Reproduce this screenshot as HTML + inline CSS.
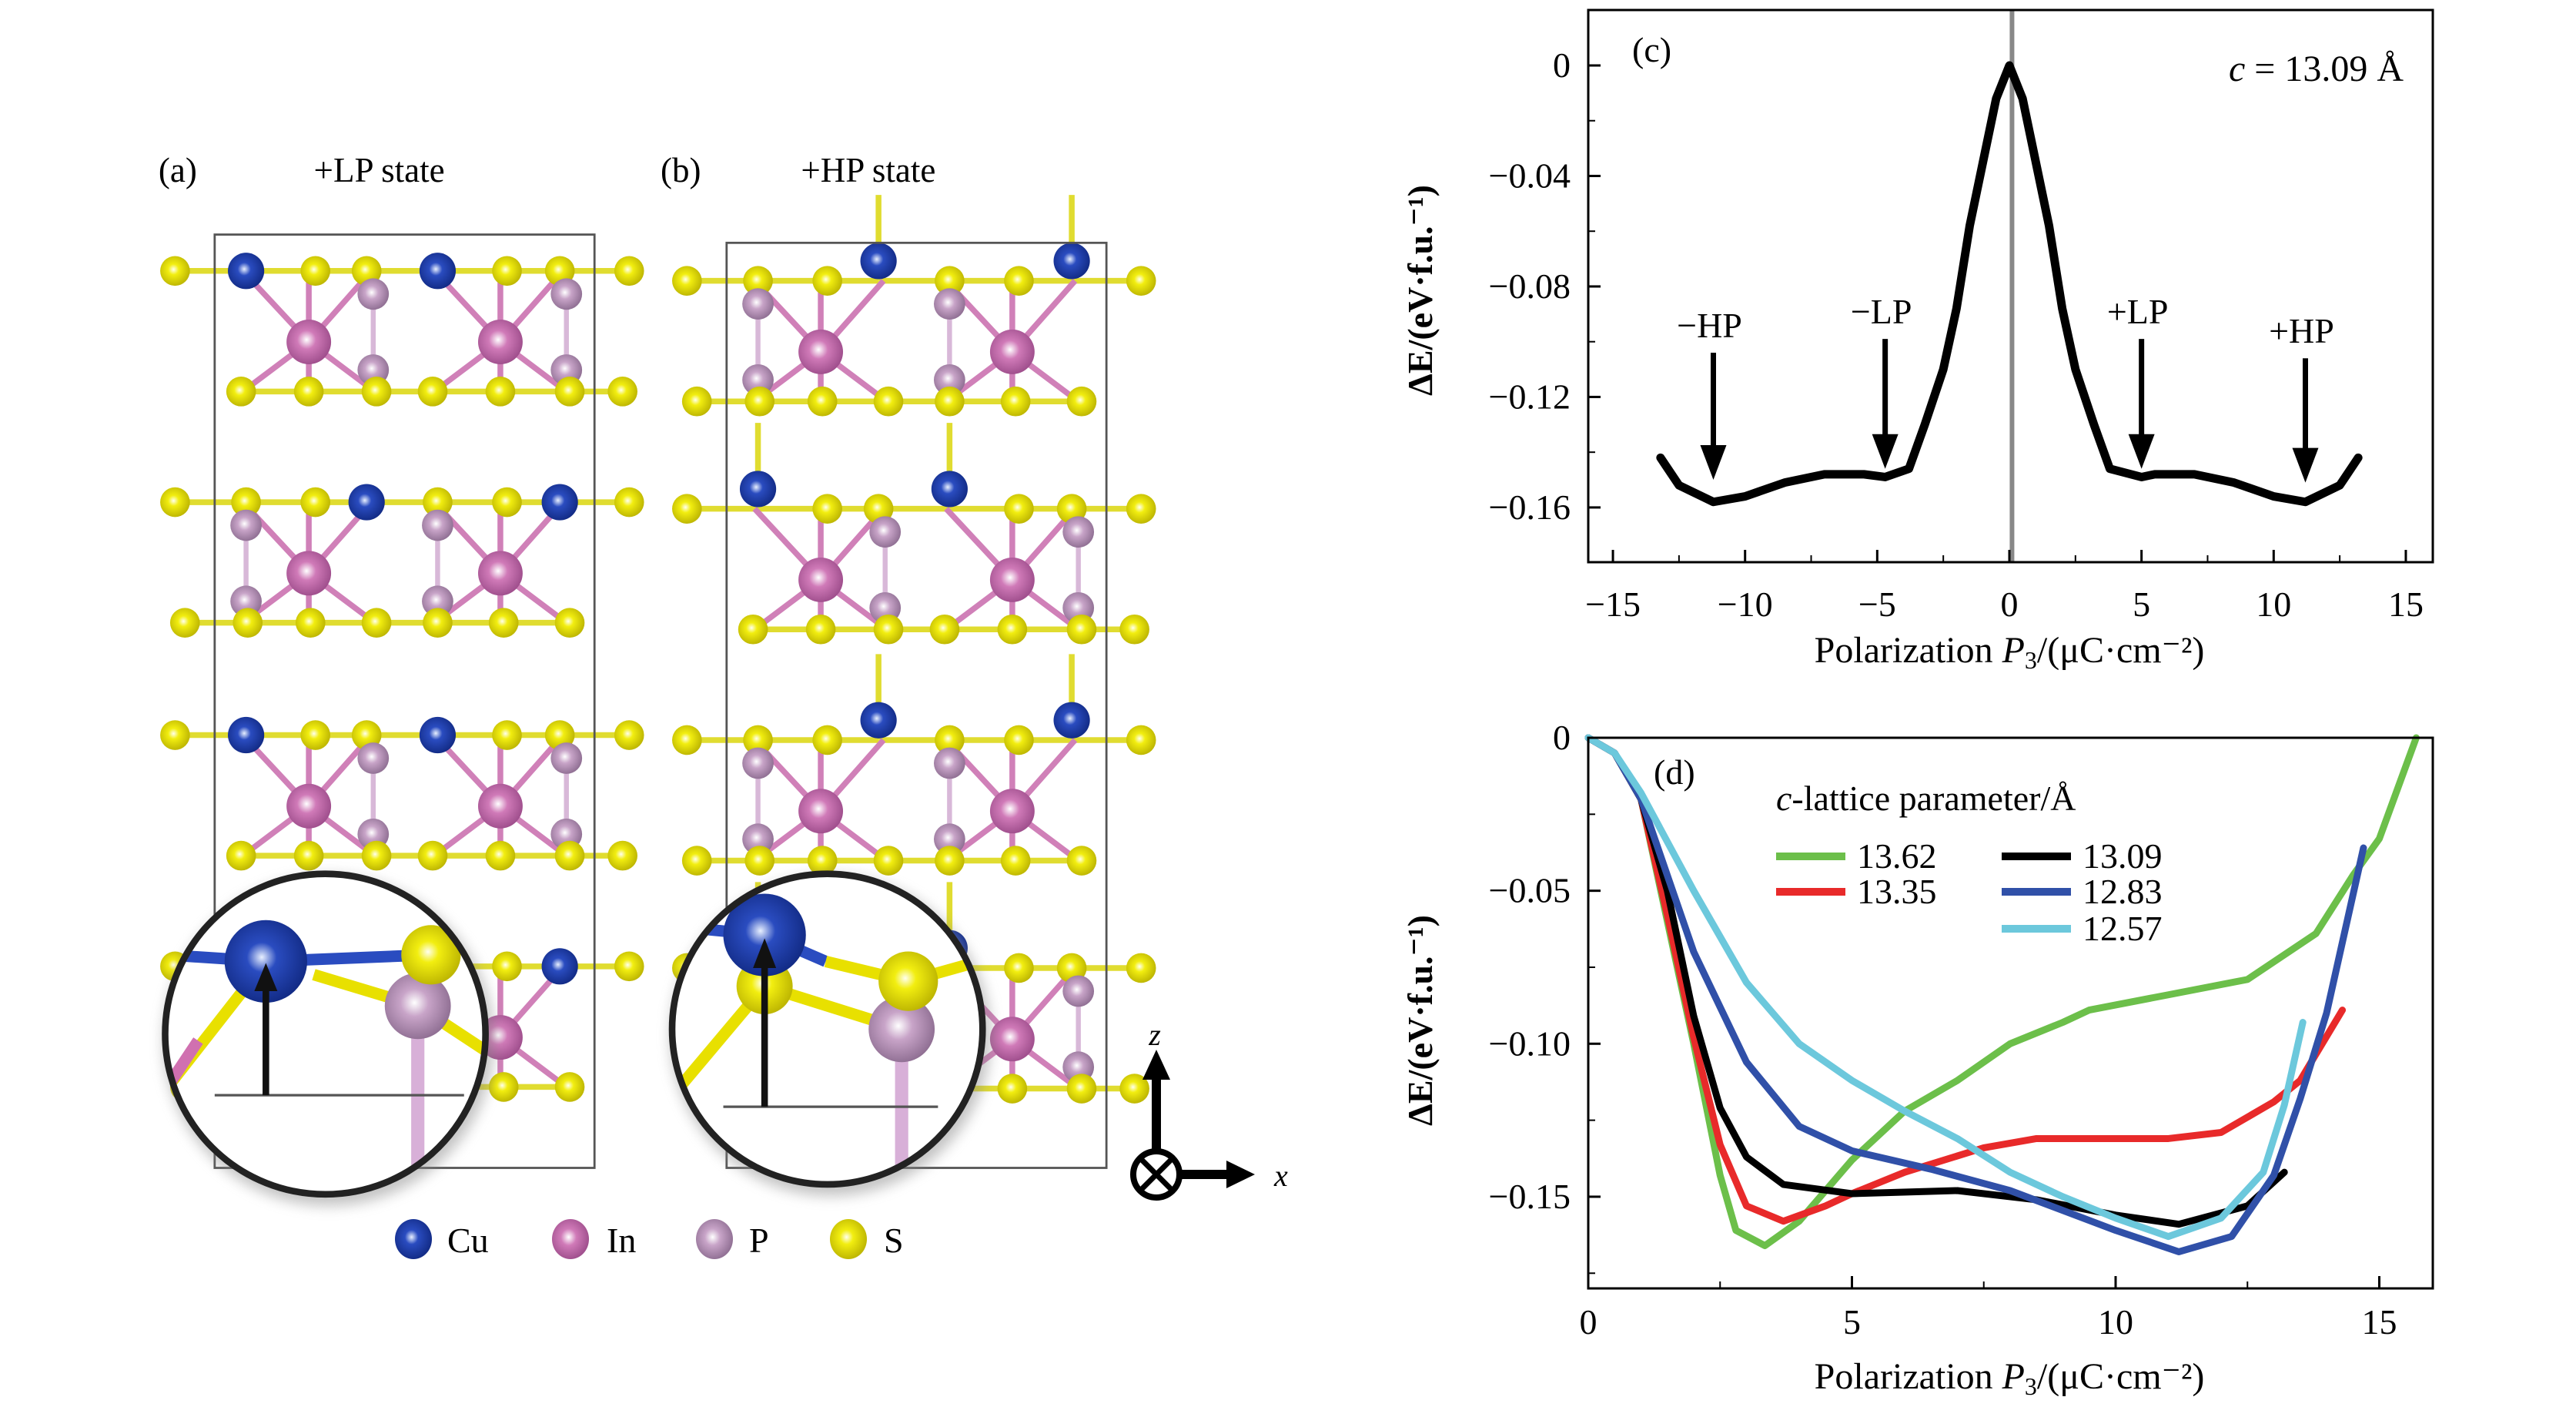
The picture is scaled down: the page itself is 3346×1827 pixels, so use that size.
<!DOCTYPE html>
<html><head><meta charset="utf-8"><style>
html,body{margin:0;padding:0;background:#fff;}
svg{display:block;}
svg text{font-family:"Liberation Serif","DejaVu Serif",serif;fill:#000;}
</style></head><body>
<svg id="fig" width="3346" height="1827" viewBox="0 0 3346 1827" xmlns="http://www.w3.org/2000/svg" font-family="Liberation Serif, DejaVu Serif, serif" style="font-family:'Liberation Serif',serif">
<defs>
<radialGradient id="gS" cx="0.45" cy="0.45" r="0.6"><stop offset="0" stop-color="#fffff0"/><stop offset="0.3" stop-color="#f2ee10"/><stop offset="1" stop-color="#b8b000"/></radialGradient>
<radialGradient id="gCu" cx="0.45" cy="0.45" r="0.6"><stop offset="0" stop-color="#e8f0ff"/><stop offset="0.3" stop-color="#2a4cc0"/><stop offset="1" stop-color="#102880"/></radialGradient>
<radialGradient id="gIn" cx="0.45" cy="0.45" r="0.6"><stop offset="0" stop-color="#ffffff"/><stop offset="0.35" stop-color="#d07ab8"/><stop offset="1" stop-color="#9a4a88"/></radialGradient>
<radialGradient id="gP" cx="0.45" cy="0.45" r="0.6"><stop offset="0" stop-color="#ffffff"/><stop offset="0.35" stop-color="#c8a4c8"/><stop offset="1" stop-color="#8a6a8e"/></radialGradient>
<clipPath id="clipA"><circle cx="197" cy="626" r="97"/></clipPath>
<clipPath id="clipB"><circle cx="501" cy="623" r="94"/></clipPath>
<filter id="sh" x="-20%" y="-20%" width="140%" height="140%"><feGaussianBlur stdDeviation="4"/></filter>
</defs>
<g id="crystal" transform="scale(2.145)">
 <text x="96" y="110" font-size="21" font-family="Liberation Serif, serif">(a)</text>
 <text x="190" y="110" font-size="21" font-family="Liberation Serif, serif">+LP state</text>
 <text x="400" y="110" font-size="21" font-family="Liberation Serif, serif">(b)</text>
 <text x="485" y="110" font-size="21" font-family="Liberation Serif, serif">+HP state</text>
 <g id="atomsA"></g>
 <g id="atomsB"></g>
 <rect x="130" y="142" width="230" height="565" fill="none" stroke="#555" stroke-width="1.3"/>
 <rect x="440" y="147" width="230" height="560" fill="none" stroke="#555" stroke-width="1.3"/>
 <g>
  <circle cx="199" cy="630" r="100" fill="#888" opacity="0.5" filter="url(#sh)"/>
  <circle cx="197" cy="626" r="97" fill="#fff"/>
  <g clip-path="url(#clipA)">
   <line x1="100" y1="578" x2="161" y2="582" stroke="#2a4cc0" stroke-width="7"/>
   <line x1="161" y1="582" x2="261" y2="578" stroke="#2a4cc0" stroke-width="7"/>
   <line x1="161" y1="582" x2="100" y2="660" stroke="#e8e000" stroke-width="7"/>
   <line x1="120" y1="630" x2="100" y2="660" stroke="#d070b0" stroke-width="7"/>
   <line x1="190" y1="590" x2="253" y2="609" stroke="#e8e000" stroke-width="7"/>
   <line x1="253" y1="609" x2="300" y2="640" stroke="#e8e000" stroke-width="7"/>
   <rect x="249" y="610" width="8" height="120" fill="#d8b0d8"/>
   <circle cx="253" cy="609" r="20" fill="url(#gP)"/>
   <circle cx="261" cy="578" r="18" fill="url(#gS)"/>
   <circle cx="161" cy="582" r="25" fill="url(#gCu)"/>
   <line x1="130" y1="663" x2="281" y2="663" stroke="#555" stroke-width="1.5"/>
   <line x1="161" y1="663" x2="161" y2="598" stroke="#111" stroke-width="4"/>
   <polygon points="161,583 154,600 168,600" fill="#111"/>
  </g>
  <circle cx="197" cy="626" r="97" fill="none" stroke="#222" stroke-width="4"/>
 </g>
 <g>
  <circle cx="503" cy="627" r="97" fill="#888" opacity="0.5" filter="url(#sh)"/>
  <circle cx="501" cy="623" r="94" fill="#fff"/>
  <g clip-path="url(#clipB)">
   <line x1="400" y1="560" x2="463" y2="566" stroke="#2a4cc0" stroke-width="7"/>
   <line x1="463" y1="566" x2="500" y2="582" stroke="#2a4cc0" stroke-width="7"/>
   <line x1="500" y1="582" x2="550" y2="594" stroke="#e8e000" stroke-width="7"/>
   <line x1="463" y1="597" x2="410" y2="660" stroke="#e8e000" stroke-width="7"/>
   <line x1="463" y1="597" x2="546" y2="623" stroke="#e8e000" stroke-width="7"/>
   <line x1="550" y1="594" x2="600" y2="580" stroke="#e8e000" stroke-width="7"/>
   <rect x="542" y="624" width="8" height="110" fill="#d8b0d8"/>
   <circle cx="546" cy="623" r="20" fill="url(#gP)"/>
   <circle cx="463" cy="597" r="17" fill="url(#gS)"/>
   <circle cx="550" cy="594" r="18" fill="url(#gS)"/>
   <circle cx="463" cy="566" r="25" fill="url(#gCu)"/>
   <line x1="438" y1="670" x2="568" y2="670" stroke="#555" stroke-width="1.5"/>
   <line x1="463" y1="670" x2="463" y2="585" stroke="#111" stroke-width="4"/>
   <polygon points="463,568 456,586 470,586" fill="#111"/>
  </g>
  <circle cx="501" cy="623" r="94" fill="none" stroke="#222" stroke-width="4"/>
 </g>
</g>
<g>
 <line x1="1502" y1="1492" x2="1502" y2="1400" stroke="#000" stroke-width="12"/>
 <polygon points="1502,1363 1484,1402 1520,1402" fill="#000"/>
 <line x1="1535" y1="1525" x2="1595" y2="1525" stroke="#000" stroke-width="12"/>
 <polygon points="1630,1525 1593,1507 1593,1543" fill="#000"/>
 <circle cx="1502" cy="1525" r="30" fill="#fff" stroke="#000" stroke-width="8"/>
 <line x1="1483" y1="1506" x2="1521" y2="1544" stroke="#000" stroke-width="7"/>
 <line x1="1521" y1="1506" x2="1483" y2="1544" stroke="#000" stroke-width="7"/>
 <text x="1500" y="1357" font-size="40" font-style="italic" text-anchor="middle">z</text>
 <text x="1655" y="1540" font-size="40" font-style="italic">x</text>
</g>
<g>
 <ellipse cx="537" cy="1609" rx="24" ry="26" fill="url(#gCu)"/><text x="581" y="1626" font-size="46">Cu</text>
 <ellipse cx="741" cy="1609" rx="24" ry="26" fill="url(#gIn)"/><text x="788" y="1626" font-size="46">In</text>
 <ellipse cx="928" cy="1609" rx="24" ry="26" fill="url(#gP)"/><text x="973" y="1626" font-size="46">P</text>
 <ellipse cx="1102" cy="1609" rx="24" ry="26" fill="url(#gS)"/><text x="1148" y="1626" font-size="46">S</text>
</g>
<g id="chartC"></g>
<g id="chartD"></g>
</svg>
<script>
// ---------- chart (c) data ----------
const cX = [-13.2,-12.5,-11.2,-10,-8.5,-7,-5.5,-4.7,-3.8,-3.2,-2.5,-2,-1.5,-1,-0.5,0,0.5,1,1.5,2,2.5,3.2,3.8,5,5.5,7,8.5,10,11.2,12.5,13.2];
const cY = [-0.142,-0.152,-0.158,-0.156,-0.151,-0.148,-0.148,-0.149,-0.146,-0.13,-0.11,-0.088,-0.058,-0.035,-0.012,0,-0.012,-0.035,-0.058,-0.088,-0.11,-0.13,-0.146,-0.149,-0.148,-0.148,-0.151,-0.156,-0.158,-0.152,-0.142];
const cXTicks = [-15,-10,-5,0,5,10,15];
const cXTickLabels = ["\u221215","\u221210","\u22125","0","5","10","15"];
const cYTicks = [0,-0.04,-0.08,-0.12,-0.16];
const cYTickLabels = ["0","\u22120.04","\u22120.08","\u22120.12","\u22120.16"];
const cArrowX = [-11.2,-4.7,5,11.2];
const cArrowTop = [-0.104,-0.099,-0.099,-0.106];
const cArrowTip = [-0.150,-0.146,-0.146,-0.151];
const cArrowLabels = ["\u2212HP","\u2212LP","+LP","+HP"];
// ---------- chart (d) data ----------
const dCategories = ["13.62","13.35","13.09","12.83","12.57"];
const dColors = ["#6cbf4a","#e82a2a","#000000","#3050a8","#6cc8dc"];
const dX0 = [0,0.5,1,1.5,2,2.5,2.8,3.35,4,4.5,5,6,7,8,9,9.5,11,12.5,13.8,14.5,15,15.7];
const dY0 = [0,-0.005,-0.02,-0.06,-0.1,-0.143,-0.161,-0.166,-0.158,-0.148,-0.138,-0.122,-0.112,-0.1,-0.093,-0.089,-0.084,-0.079,-0.064,-0.045,-0.033,0];
const dX1 = [0,0.5,1,1.5,2,2.5,3,3.7,4.5,5,6,7.5,8.5,11,12,13,13.5,14.3];
const dY1 = [0,-0.005,-0.02,-0.058,-0.098,-0.133,-0.153,-0.158,-0.153,-0.149,-0.142,-0.134,-0.131,-0.131,-0.129,-0.119,-0.112,-0.089];
const dX2 = [0,0.5,1,1.5,2,2.5,3,3.7,5,7,8.5,10,11.2,12.5,13.2];
const dY2 = [0,-0.005,-0.02,-0.05,-0.091,-0.121,-0.137,-0.146,-0.149,-0.148,-0.151,-0.156,-0.159,-0.153,-0.142];
const dX3 = [0,0.5,1,2,3,4,5,6.5,8,10,11.2,12.2,13,13.5,14,14.7];
const dY3 = [0,-0.005,-0.02,-0.07,-0.106,-0.127,-0.135,-0.141,-0.148,-0.161,-0.168,-0.163,-0.143,-0.118,-0.09,-0.036];
const dX4 = [0,0.5,1,2,3,4,5,6,7,8,9,10,11,12,12.8,13.2,13.55];
const dY4 = [0,-0.005,-0.018,-0.05,-0.08,-0.1,-0.112,-0.122,-0.131,-0.142,-0.15,-0.157,-0.163,-0.157,-0.142,-0.12,-0.093];
const dSeriesX = [dX0,dX1,dX2,dX3,dX4];
const dSeriesY = [dY0,dY1,dY2,dY3,dY4];
const dXTicks = [0,5,10,15];
const dXTickLabels = ["0","5","10","15"];
const dYTicks = [0,-0.05,-0.10,-0.15];
const dYTickLabels = ["0","\u22120.05","\u22120.10","\u22120.15"];

const NS = "http://www.w3.org/2000/svg";
function mk(parent, tag, attrs, txt){
  const e = document.createElementNS(NS, tag);
  for (const k in attrs) e.setAttribute(k, attrs[k]);
  if (tag === 'text') e.setAttribute('font-family', 'Liberation Serif, DejaVu Serif, serif');
  if (txt !== undefined) e.textContent = txt;
  parent.appendChild(e); return e;
}

// ---------- crystal atoms ----------
function atom(g, x, y, type){
  const r = {S:9, Cu:11, In:13.5, P:9.5}[type];
  const c = mk(g,'circle',{cx:x,cy:y,r:r,fill:'url(#g'+type+')'});
  
  
}
function bond(g,x1,y1,x2,y2,col){
  mk(g,'line',{x1:x1,y1:y1,x2:x2,y2:y2,stroke:col,'stroke-width':3.5});
}
function layer(g, ox, y0, typeA, cuDy){
  const top = [106,149,191,222,265,307,339,381];
  const cuIdx = typeA ? [1,4] : [3,6];
  const pX = typeA ? [226,343] : [149,265];
  const inX = [187,303];
  const bot = typeA ? [146,187,228,262,303,345,377] : [112,150,188,228,265,305,345];
  for (let i=0;i<top.length-1;i++) bond(g,ox+top[i],y0,ox+top[i+1],y0,'#e0dc30');
  inX.forEach(x=>{
    [[-40,0],[0,0],[38,0]].forEach(d=>bond(g,ox+x,y0+43,ox+x+d[0],y0,'#d080b8'));
    [[-40,73],[0,73],[40,73]].forEach(d=>bond(g,ox+x,y0+43,ox+x+d[0],y0+d[1],'#d080b8'));
  });
  pX.forEach(x=>{ mk(g,'line',{x1:ox+x,y1:y0+14,x2:ox+x,y2:y0+60,stroke:'#d8b8d8','stroke-width':3}); });
  for (let i=0;i<bot.length-1;i++) bond(g,ox+bot[i],y0+73,ox+bot[i+1],y0+73,'#e0dc30');
  top.forEach((x,i)=>{ if(!cuIdx.includes(i)) atom(g,ox+x,y0,'S'); });
  pX.forEach(x=>atom(g,ox+x,y0+14,'P'));
  inX.forEach(x=>atom(g,ox+x,y0+43,'In'));
  pX.forEach(x=>atom(g,ox+x,y0+60,'P'));
  bot.forEach(x=>atom(g,ox+x,y0+73,'S'));
  cuIdx.forEach(i=>{
    if (cuDy) bond(g,ox+top[i],y0-cuDy,ox+top[i],y0-cuDy-40,'#e0dc30');
    atom(g,ox+top[i],y0-cuDy,'Cu');
  });
}
const gA = document.getElementById('atomsA');
[[164,true],[304,false],[445,true],[585,false]].forEach(l=>layer(gA,0,l[0],l[1],0));
const gB = document.getElementById('atomsB');
[[170,true],[308,false],[448,true],[586,false]].forEach(l=>layer(gB,310,l[0],!l[1],12));

// ---------- chart (c) ----------
(function(){
  const g = document.getElementById('chartC');
  const L=2063,R=3160,T=13,B=730;
  const sx = v => 2610 + v*34.33;
  const sy = v => 85 - v*3587;
  mk(g,'line',{x1:sx(0.1),y1:T,x2:sx(0.1),y2:B,stroke:'#888','stroke-width':6});
  const pts = cX.map((x,i)=>sx(x)+','+sy(cY[i])).join(' ');
  const pl = mk(g,'polyline',{points:pts,fill:'none',stroke:'#000','stroke-width':11,'stroke-linejoin':'round','stroke-linecap':'round'});
  
  
  mk(g,'rect',{x:L,y:T,width:R-L,height:B-T,fill:'none',stroke:'#000','stroke-width':3});
  cXTicks.forEach((t,i)=>{
    mk(g,'line',{x1:sx(t),y1:B,x2:sx(t),y2:B-16,stroke:'#000','stroke-width':3});
    const tl = mk(g,'text',{x:sx(t),y:800,'font-size':46,'text-anchor':'middle'},cXTickLabels[i]);
    
    
  });
  for (let v=-12.5; v<=12.5; v+=5) mk(g,'line',{x1:sx(v),y1:B,x2:sx(v),y2:B-9,stroke:'#000','stroke-width':2});
  cYTicks.forEach((t,i)=>{
    mk(g,'line',{x1:L,y1:sy(t),x2:L+16,y2:sy(t),stroke:'#000','stroke-width':3});
    const tl = mk(g,'text',{x:2040,y:sy(t)+15,'font-size':46,'text-anchor':'end'},cYTickLabels[i]);
    
    
  });
  for (let v=-0.02; v>=-0.14; v-=0.04) mk(g,'line',{x1:L,y1:sy(v),x2:L+9,y2:sy(v),stroke:'#000','stroke-width':2});
  cArrowX.forEach((x,i)=>{
    mk(g,'line',{x1:sx(x),y1:sy(cArrowTop[i]),x2:sx(x),y2:sy(cArrowTip[i])-40,stroke:'#000','stroke-width':7});
    const a = mk(g,'polygon',{points:`${sx(x)},${sy(cArrowTip[i])} ${sx(x)-17},${sy(cArrowTip[i])-45} ${sx(x)+17},${sy(cArrowTip[i])-45}`,fill:'#000'});
    
    
    const lb = mk(g,'text',{x:sx(x)-5,y:sy(cArrowTop[i])-20,'font-size':46,'text-anchor':'middle'},cArrowLabels[i]);
    
    
  });
  const pc = mk(g,'text',{x:2120,y:80,'font-size':46},'(c)');
  
  
  const ct = mk(g,'text',{x:3122,y:105,'font-size':48,'text-anchor':'end'});
  
  
  mk(ct,'tspan',{'font-style':'italic'},'c');
  mk(ct,'tspan',{},' = 13.09 Å');
  const yt = mk(g,'text',{transform:'translate(1860,377) rotate(-90)','font-size':46,'font-weight':'bold','text-anchor':'middle'},'ΔE/(eV·f.u.⁻¹)');
  
  
  const xt = mk(g,'text',{x:2610,y:860,'font-size':48,'text-anchor':'middle'});
  
  
  mk(xt,'tspan',{},'Polarization ');
  mk(xt,'tspan',{'font-style':'italic'},'P');
  mk(xt,'tspan',{'font-size':32,dy:8},'3');
  mk(xt,'tspan',{dy:-8},'/(μC·cm⁻²)');
})();

// ---------- chart (d) ----------
(function(){
  const g = document.getElementById('chartD');
  const L=2063,R=3160,T=958,B=1673;
  const sx = v => 2063 + v*68.5;
  const sy = v => 958 - v*3973;
  dSeriesX.forEach((xs,s)=>{
    const pts = xs.map((x,i)=>sx(x)+','+sy(dSeriesY[s][i])).join(' ');
    const pl = mk(g,'polyline',{points:pts,fill:'none',stroke:dColors[s],'stroke-width':9,'stroke-linejoin':'round','stroke-linecap':'round'});
    
    
  });
  mk(g,'rect',{x:L,y:T,width:R-L,height:B-T,fill:'none',stroke:'#000','stroke-width':3});
  dXTicks.forEach((t,i)=>{
    mk(g,'line',{x1:sx(t),y1:B,x2:sx(t),y2:B-16,stroke:'#000','stroke-width':3});
    const tl = mk(g,'text',{x:sx(t),y:1732,'font-size':46,'text-anchor':'middle'},dXTickLabels[i]);
    
    
  });
  for (let v=2.5; v<=12.5; v+=5) mk(g,'line',{x1:sx(v),y1:B,x2:sx(v),y2:B-9,stroke:'#000','stroke-width':2});
  dYTicks.forEach((t,i)=>{
    mk(g,'line',{x1:L,y1:sy(t),x2:L+16,y2:sy(t),stroke:'#000','stroke-width':3});
    const tl = mk(g,'text',{x:2040,y:sy(t)+15,'font-size':46,'text-anchor':'end'},dYTickLabels[i]);
    
    
  });
  for (let v=-0.025; v>=-0.175; v-=0.05) mk(g,'line',{x1:L,y1:sy(v),x2:L+9,y2:sy(v),stroke:'#000','stroke-width':2});
  const pd = mk(g,'text',{x:2148,y:1018,'font-size':46},'(d)');
  
  
  const lt = mk(g,'text',{x:2307,y:1052,'font-size':46});
  
  
  mk(lt,'tspan',{'font-style':'italic'},'c');
  mk(lt,'tspan',{},'-lattice parameter/Å');
  const legX = [2307,2307,2600,2600,2600];
  const legY = [1112,1158,1112,1158,1206];
  dCategories.forEach((c,i)=>{
    const ln = mk(g,'line',{x1:legX[i],y1:legY[i],x2:legX[i]+90,y2:legY[i],stroke:dColors[i],'stroke-width':10});
    
    
    const t = mk(g,'text',{x:legX[i]+105,y:legY[i]+15,'font-size':46},c);
    
    
  });
  const yt = mk(g,'text',{transform:'translate(1860,1325) rotate(-90)','font-size':46,'font-weight':'bold','text-anchor':'middle'},'ΔE/(eV·f.u.⁻¹)');
  
  
  const xt = mk(g,'text',{x:2610,y:1803,'font-size':48,'text-anchor':'middle'});
  
  
  mk(xt,'tspan',{},'Polarization ');
  mk(xt,'tspan',{'font-style':'italic'},'P');
  mk(xt,'tspan',{'font-size':32,dy:8},'3');
  mk(xt,'tspan',{dy:-8},'/(μC·cm⁻²)');
})();
</script>
</body></html>
